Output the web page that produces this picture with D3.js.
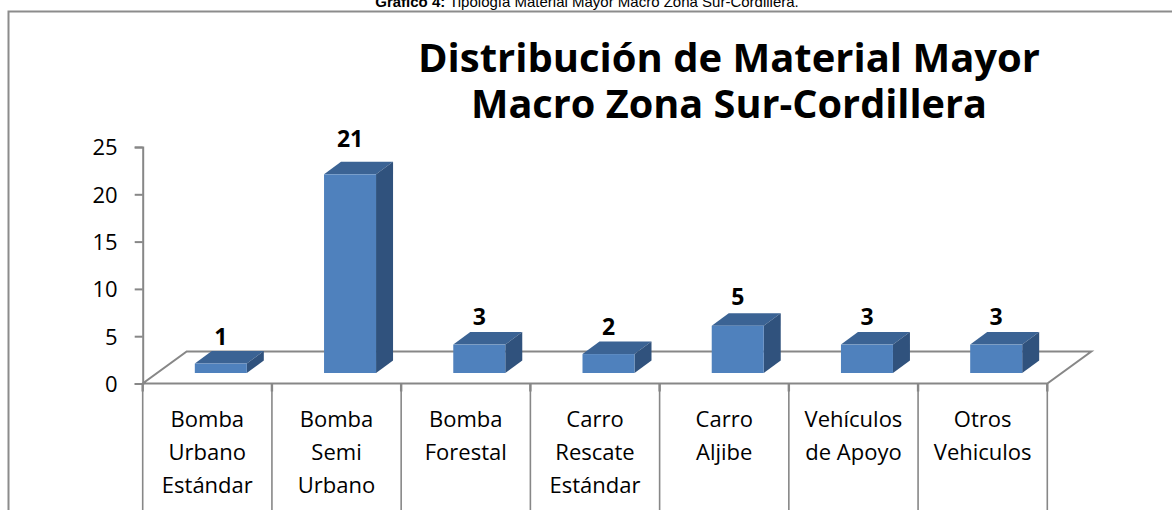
<!DOCTYPE html>
<html>
<head>
<meta charset="utf-8">
<script src="https://cdn.jsdelivr.net/npm/d3@7"></script>
<style>
  html, body { margin: 0; padding: 0; background: #ffffff; }
  svg { display: block; }
</style>
</head>
<body>
<svg id="chart" width="1172" height="510"></svg>
<script>
// ---- data ----
const categories = [
  "Bomba\nUrbano\nEstándar",
  "Bomba\nSemi\nUrbano",
  "Bomba\nForestal",
  "Carro\nRescate\nEstándar",
  "Carro\nAljibe",
  "Vehículos\nde Apoyo",
  "Otros\nVehiculos"
];
const values = [1, 21, 3, 2, 5, 3, 3];
const yTicks = [0, 5, 10, 15, 20, 25];
const titleLines = ["Distribución de Material Mayor", "Macro Zona Sur-Cordillera"];
const captionBold = "Gráfico 4:";
const captionText = " Tipología Material Mayor Macro Zona Sur-Cordillera.";

// ---- layout ----
const svg = d3.select("#chart");
const axisColor = "#878787";
const font = "'Open Sans', sans-serif";

const x = d3.scaleBand().domain(categories).range([142.7, 1047.3]).padding(0);
const y = d3.scaleLinear().domain([0, 25]).range([383.5, 147]);
const bw = x.bandwidth();

const floorDepth = { dx: 44, dy: -32 };
const barShift = { dx: 13.5, dy: -10.5 };
const barW = 52;
const barDepth = { dx: 17, dy: -12.5 };

// caption (cut off at top, as in the source)
const cap = svg.append("text")
  .attr("x", 587).attr("y", 6.5)
  .attr("text-anchor", "middle")
  .style("font-family", "'Liberation Sans', Arial, sans-serif")
  .style("font-size", "15px")
  .attr("fill", "#000");
cap.append("tspan").style("font-weight", "bold").text(captionBold);
cap.append("tspan").text(captionText);

// outer chart border
svg.append("rect")
  .attr("x", 8.5).attr("y", 11.5)
  .attr("width", 1300).attr("height", 700)
  .attr("fill", "none")
  .attr("stroke", "#8c8c8c")
  .attr("stroke-width", 2);

// title
const titleSpec = [
  { y: 72, len: 622 },
  { y: 118, len: 516 }
];
svg.selectAll("text.title").data(titleLines).join("text")
  .attr("class", "title")
  .attr("x", 729)
  .attr("y", (d, i) => titleSpec[i].y)
  .attr("text-anchor", "middle")
  .attr("textLength", (d, i) => titleSpec[i].len)
  .attr("lengthAdjust", "spacingAndGlyphs")
  .style("font-family", font)
  .style("font-weight", "bold")
  .style("font-size", "39px")
  .attr("fill", "#000")
  .text(d => d);

// floor
const x0 = x.range()[0], x1 = x.range()[1], y0 = y(0);
const floorPts = [
  [x0, y0], [x1, y0],
  [x1 + floorDepth.dx, y0 + floorDepth.dy],
  [x0 + floorDepth.dx, y0 + floorDepth.dy]
];
svg.append("path")
  .attr("d", d3.line()(floorPts) + "Z")
  .attr("fill", "none")
  .attr("stroke", axisColor)
  .attr("stroke-width", 2);

// y axis
const yAxis = d3.axisLeft(y).tickValues(yTicks).tickSize(8).tickPadding(17);
const gy = svg.append("g").attr("transform", `translate(${x0},0)`).call(yAxis);
gy.select(".domain").attr("stroke", axisColor).attr("stroke-width", 2);
gy.selectAll(".tick line").attr("stroke", axisColor).attr("stroke-width", 2);
gy.selectAll(".tick text")
  .style("font-family", font)
  .style("font-size", "22px")
  .attr("fill", "#000")
  .attr("dy", "0.36em");

// category separators
const bounds = categories.map(c => x(c)).concat([x1]);
svg.selectAll("line.sep").data(bounds).join("line")
  .attr("class", "sep")
  .attr("x1", d => d).attr("x2", d => d)
  .attr("y1", y0).attr("y2", 515)
  .attr("stroke", axisColor).attr("stroke-width", 1.6);
svg.selectAll("line.septick").data(bounds).join("line")
  .attr("class", "septick")
  .attr("x1", d => d).attr("x2", d => d)
  .attr("y1", y0).attr("y2", y0 + 8)
  .attr("stroke", axisColor).attr("stroke-width", 2.4);

// category labels
const catG = svg.selectAll("text.cat").data(categories).join("text")
  .attr("class", "cat")
  .attr("text-anchor", "middle")
  .style("font-family", font)
  .style("font-size", "22px")
  .attr("fill", "#000");
catG.each(function(d) {
  const t = d3.select(this);
  d.split("\n").forEach((line, i) => {
    t.append("tspan")
      .attr("x", x(d) + bw / 2)
      .attr("y", 427 + i * 33)
      .text(line);
  });
});

// bars (3D boxes)
const data = categories.map((c, i) => ({ c, v: values[i] }));
const bars = svg.selectAll("g.bar").data(data).join("g").attr("class", "bar");

function geom(d) {
  const fx = x(d.c) + bw / 2 - barW / 2 + barShift.dx;
  const fb = y(0) + barShift.dy;
  const ft = y(d.v) + barShift.dy;
  return { fx, fb, ft };
}
// top face
bars.append("path")
  .attr("d", d => {
    const g = geom(d);
    return d3.line()([
      [g.fx, g.ft], [g.fx + barW, g.ft],
      [g.fx + barW + barDepth.dx, g.ft + barDepth.dy],
      [g.fx + barDepth.dx, g.ft + barDepth.dy]
    ]) + "Z";
  })
  .attr("fill", "#3b6394");
// side face
bars.append("path")
  .attr("d", d => {
    const g = geom(d);
    return d3.line()([
      [g.fx + barW, g.ft], [g.fx + barW + barDepth.dx, g.ft + barDepth.dy],
      [g.fx + barW + barDepth.dx, g.fb + barDepth.dy], [g.fx + barW, g.fb]
    ]) + "Z";
  })
  .attr("fill", "#30527d");
// front face
bars.append("rect")
  .attr("x", d => geom(d).fx)
  .attr("y", d => geom(d).ft)
  .attr("width", barW)
  .attr("height", d => geom(d).fb - geom(d).ft)
  .attr("fill", "#4f81bd");

// data labels
svg.selectAll("text.val").data(data).join("text")
  .attr("class", "val")
  .attr("x", d => geom(d).fx + barW / 2)
  .attr("y", d => geom(d).ft + barDepth.dy - (6 + 0.4 * d.v))
  .attr("text-anchor", "middle")
  .style("font-family", font)
  .style("font-weight", "bold")
  .style("font-size", "23px")
  .attr("fill", "#000")
  .text(d => d.v);
</script>
</body>
</html>
